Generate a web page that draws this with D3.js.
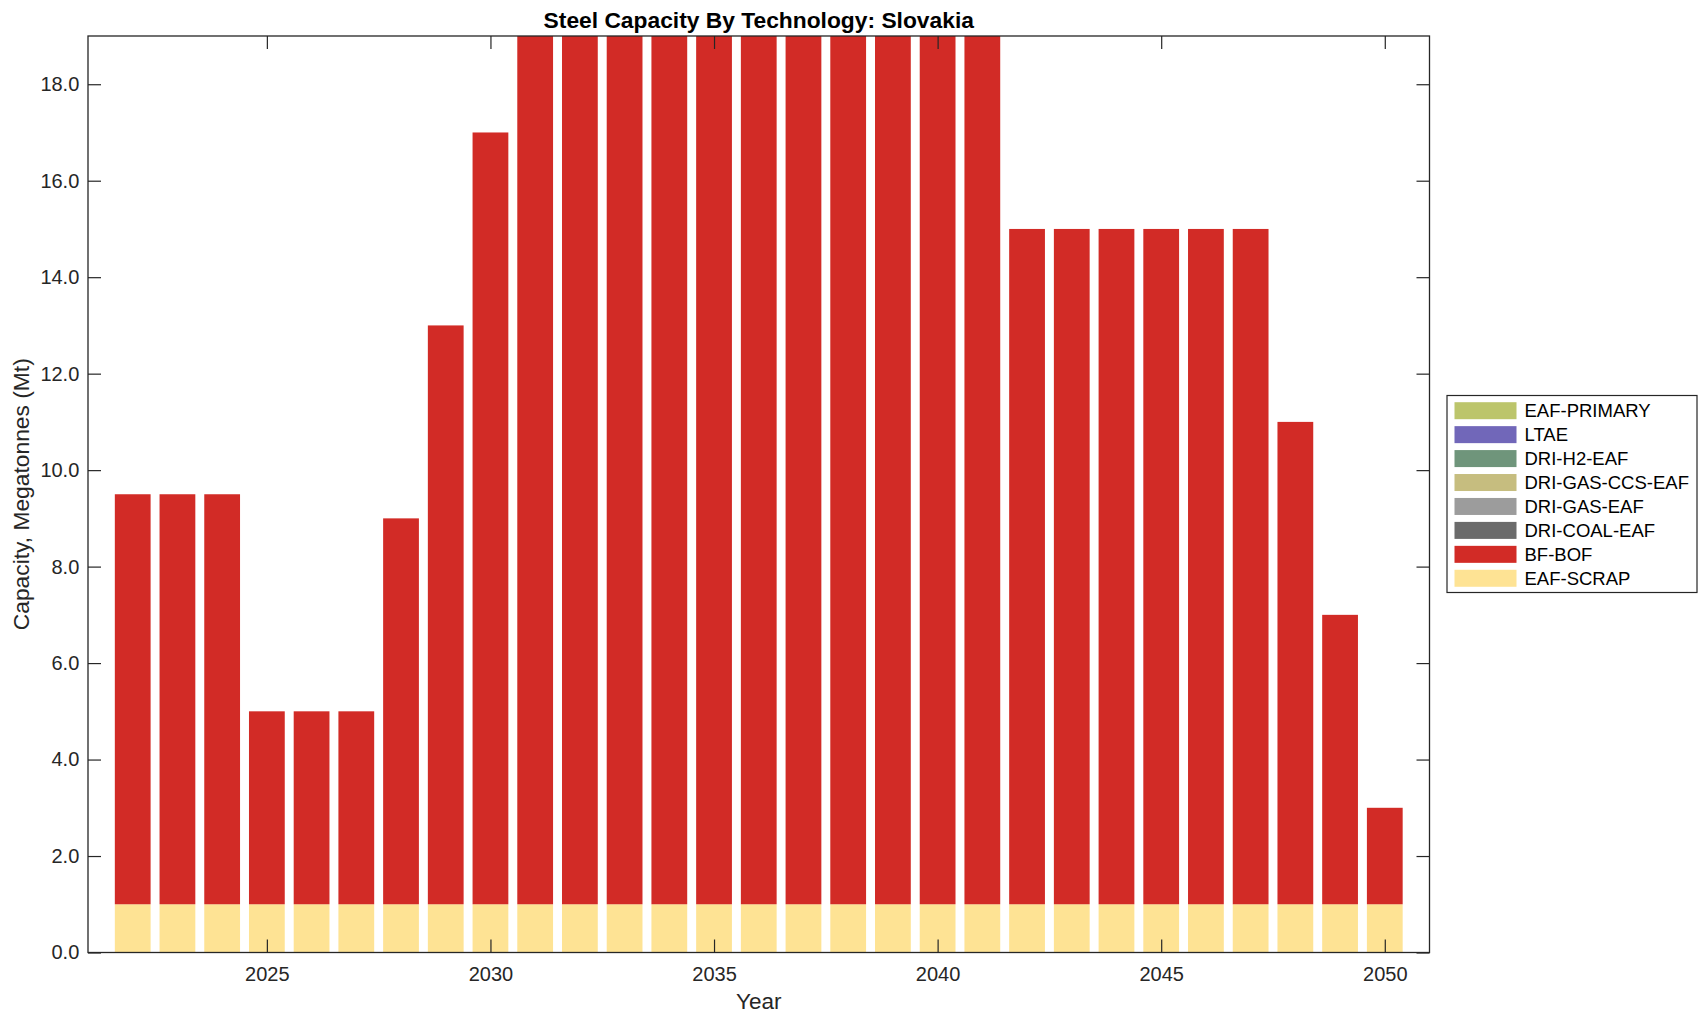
<!DOCTYPE html>
<html><head><meta charset="utf-8">
<script src="https://cdn.jsdelivr.net/npm/d3@7"></script>
<style>body{margin:0;background:#fff;} svg{display:block;font-family:"Liberation Sans",Arial,Helvetica,sans-serif;}</style>
</head><body>
<svg id="chart" width="1708" height="1021"></svg>
<script>
const years = [2022,2023,2024,2025,2026,2027,2028,2029,2030,2031,2032,2033,2034,2035,2036,2037,2038,2039,2040,2041,2042,2043,2044,2045,2046,2047,2048,2049,2050];
const eafScrap = [1,1,1,1,1,1,1,1,1,1,1,1,1,1,1,1,1,1,1,1,1,1,1,1,1,1,1,1,1];
const bfBof = [8.5,8.5,8.5,4,4,4,8,12,16,18,18,18,18,18,18,18,18,18,18,18,14,14,14,14,14,14,10,6,2];
const zeros = years.map(() => 0);
const driCoalEaf = zeros.slice();
const driGasEaf = zeros.slice();
const driGasCcsEaf = zeros.slice();
const driH2Eaf = zeros.slice();
const ltae = zeros.slice();
const eafPrimary = zeros.slice();
// stacking order: bottom first
const seriesNames = ["EAF-SCRAP","BF-BOF","DRI-COAL-EAF","DRI-GAS-EAF","DRI-GAS-CCS-EAF","DRI-H2-EAF","LTAE","EAF-PRIMARY"];
const seriesValues = [eafScrap,bfBof,driCoalEaf,driGasEaf,driGasCcsEaf,driH2Eaf,ltae,eafPrimary];
const seriesColors = ["#fee394","#d22b26","#6b6b6b","#9c9c9c","#c6bd7f","#6f957b","#7167b9","#bcc56b"];
const yTicks = [0,2,4,6,8,10,12,14,16,18];
const xTicks = [2025,2030,2035,2040,2045,2050];
const titleText = "Steel Capacity By Technology: Slovakia";
const xLabel = "Year";
const yLabel = "Capacity, Megatonnes (Mt)";

const svg = d3.select("#chart");
const L = 88, R = 1429.5, T = 36, B = 952.5;
const x = d3.scaleLinear().domain([2021, 2051]).range([L, R]);
const y = d3.scaleLinear().domain([0, 19]).range([B, T]);
const bw = (x(2022) - x(2021)) * 0.8;
const axisColor = "#262626";

const table = years.map((yr, i) => {
  const o = {year: yr};
  seriesNames.forEach((n, k) => o[n] = seriesValues[k][i]);
  return o;
});
const stacked = d3.stack().keys(seriesNames)(table);

svg.append("defs").append("clipPath").attr("id","clip")
  .append("rect").attr("x", L).attr("y", T).attr("width", R - L).attr("height", B - T);

const g = svg.append("g").attr("clip-path","url(#clip)");
stacked.forEach((s, k) => {
  g.append("g").attr("fill", seriesColors[k])
    .selectAll("rect").data(s.filter(d => d[1] - d[0] > 0)).join("rect")
    .attr("x", d => x(d.data.year) - bw/2)
    .attr("width", bw)
    .attr("y", d => y(d[1]))
    .attr("height", d => y(d[0]) - y(d[1]));
});

// axes
const tickLen = 13;
const fs = 20;
const axB = svg.append("g").attr("transform", `translate(0,${B})`)
  .call(d3.axisBottom(x).tickValues(xTicks).tickFormat(d3.format("d")).tickSizeInner(-tickLen).tickSizeOuter(0).tickPadding(14.5));
const axT = svg.append("g").attr("transform", `translate(0,${T})`)
  .call(d3.axisTop(x).tickValues(xTicks).tickFormat("").tickSizeInner(-tickLen).tickSizeOuter(0));
const axL = svg.append("g").attr("transform", `translate(${L},0)`)
  .call(d3.axisLeft(y).tickValues(yTicks).tickFormat(d3.format(".1f")).tickSizeInner(-tickLen).tickSizeOuter(0).tickPadding(8.7));
const axR = svg.append("g").attr("transform", `translate(${R},0)`)
  .call(d3.axisRight(y).tickValues(yTicks).tickFormat("").tickSizeInner(-tickLen).tickSizeOuter(0));
[axB, axT, axL, axR].forEach(a => {
  a.select(".domain").remove();
  a.selectAll("line").attr("stroke", axisColor).attr("stroke-width", 1.2);
  a.selectAll("text").attr("fill", axisColor).style("font-size", fs + "px").attr("font-family", null);
});
svg.append("rect").attr("x", L).attr("y", T).attr("width", R - L).attr("height", B - T)
  .attr("fill","none").attr("stroke", axisColor).attr("stroke-width", 1.3);

// title & labels
svg.append("text").attr("x", (L + R)/2).attr("y", 28).attr("text-anchor","middle")
  .attr("font-weight","bold").style("font-size","22.8px").attr("fill","#000").text(titleText);
svg.append("text").attr("x", (L + R)/2).attr("y", 1009).attr("text-anchor","middle")
  .style("font-size","22.5px").attr("fill", axisColor).text(xLabel);
svg.append("text").attr("transform", `translate(28.5,${(T + B)/2}) rotate(-90)`).attr("text-anchor","middle")
  .style("font-size","22.8px").attr("fill", axisColor).text(yLabel);

// legend
const lg = svg.append("g");
lg.append("rect").attr("x", 1447).attr("y", 395.5).attr("width", 250).attr("height", 197)
  .attr("fill","#fff").attr("stroke", axisColor).attr("stroke-width", 1.2);
const legendOrder = seriesNames.map((n, k) => k).reverse();
legendOrder.forEach((k, i) => {
  const cy = 410.7 + i * 23.94;
  lg.append("rect").attr("x", 1454.5).attr("y", cy - 8.5).attr("width", 62).attr("height", 17).attr("fill", seriesColors[k]);
  lg.append("text").attr("x", 1524.5).attr("y", cy).attr("dy","0.35em")
    .style("font-size","18.5px").attr("fill","#000").text(seriesNames[k]);
});
</script>
</body></html>
